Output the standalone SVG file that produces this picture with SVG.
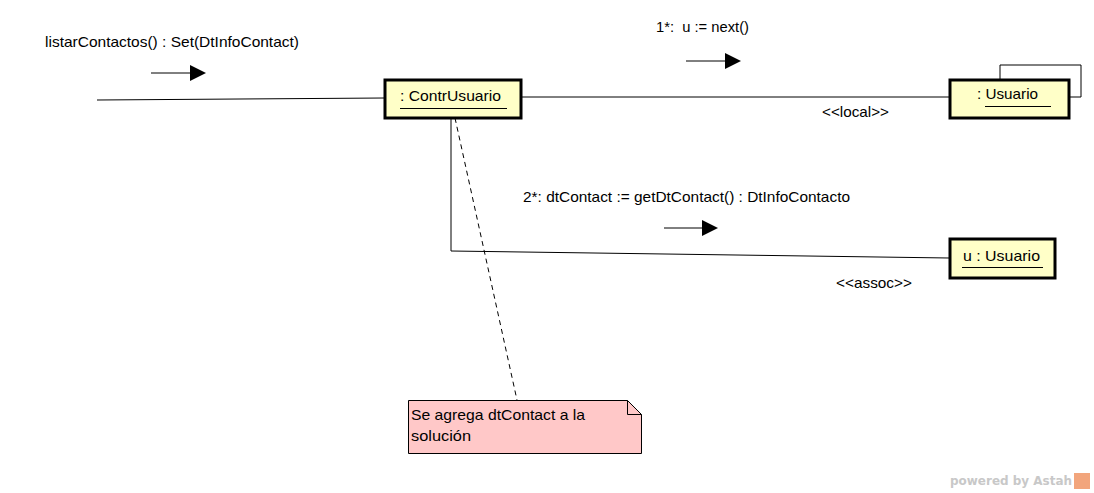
<svg xmlns="http://www.w3.org/2000/svg" width="1094" height="493" viewBox="0 0 1094 493">
<defs>
<style>
.t{font-family:"Liberation Sans",Arial,sans-serif;font-size:15px;fill:#000}
.obj{fill:#FFFFC8;stroke:#000;stroke-width:3}
.ln{stroke:#000;stroke-width:1;fill:none}
.ul{stroke:#000;stroke-width:1}
</style>
<marker id="ah" markerWidth="16" markerHeight="16" refX="0" refY="8" orient="auto" markerUnits="userSpaceOnUse">
<path d="M0,0 L16,8 L0,16 Z" fill="#000"/>
</marker>
</defs>
<rect width="1094" height="493" fill="#fff"/>
<g id="connectors">
<path class="ln" d="M97,100 L384,98"/>
<path class="ln" d="M521,97 L949,97"/>
<path class="ln" d="M1000,79 L1000,65 L1081,65 L1081,97 L1069,97"/>
<path class="ln" d="M451,118 L451,251 L949,258"/>
<path class="ln" d="M455,118 L517,400" stroke-dasharray="5,4"/>
<path class="ln" d="M151,73 L190,73" marker-end="url(#ah)"/>
<path class="ln" d="M686,61 L725,61" marker-end="url(#ah)"/>
<path class="ln" d="M664,228 L702,228" marker-end="url(#ah)"/>
<text class="t" x="45" y="47" textLength="254" lengthAdjust="spacingAndGlyphs">listarContactos() : Set(DtInfoContact)</text>
<text class="t" x="656" y="32" textLength="93" lengthAdjust="spacingAndGlyphs" xml:space="preserve">1*:  u := next()</text>
<text class="t" x="822" y="117" textLength="67" lengthAdjust="spacingAndGlyphs">&lt;&lt;local&gt;&gt;</text>
<text class="t" x="523" y="202" textLength="327" lengthAdjust="spacingAndGlyphs">2*: dtContact := getDtContact() : DtInfoContacto</text>
<text class="t" x="836" y="288" textLength="76" lengthAdjust="spacingAndGlyphs">&lt;&lt;assoc&gt;&gt;</text>
</g>
<g id="contrUsuario">
<rect class="obj" x="385" y="80" width="136" height="38"/>
<text class="t" x="400" y="101" textLength="101" lengthAdjust="spacingAndGlyphs">: ContrUsuario</text>
<line class="ul" x1="400" y1="108.5" x2="507" y2="108.5"/>
</g>
<g id="usuario">
<rect class="obj" x="950" y="80" width="119" height="38"/>
<text class="t" x="977" y="99" textLength="61" lengthAdjust="spacingAndGlyphs">: Usuario</text>
<line class="ul" x1="985" y1="106.5" x2="1051" y2="106.5"/>
</g>
<g id="uUsuario">
<rect class="obj" x="950" y="239" width="105" height="39"/>
<text class="t" x="963" y="261" textLength="77" lengthAdjust="spacingAndGlyphs">u : Usuario</text>
<line class="ul" x1="962" y1="267.5" x2="1043" y2="267.5"/>
</g>
<g id="note">
<path d="M408.5,400.5 L627.5,400.5 L641.5,414.5 L641.5,453.5 L408.5,453.5 Z" fill="#FFC8C8" stroke="#000" stroke-width="1"/>
<path d="M627.5,400.5 L627.5,414.5 L641.5,414.5" fill="none" stroke="#000" stroke-width="1"/>
<text class="t" x="411" y="420" textLength="174" lengthAdjust="spacingAndGlyphs">Se agrega dtContact a la</text>
<text class="t" x="411" y="441" textLength="60" lengthAdjust="spacingAndGlyphs">solución</text>
</g>
<g id="watermark">
<text x="950" y="485" font-family="'DejaVu Sans',sans-serif" font-weight="bold" font-size="13" fill="#C8C8C8" textLength="122" lengthAdjust="spacingAndGlyphs">powered by Astah</text>
<rect x="1074" y="473" width="16" height="16" fill="#F2A57C"/>
</g>
</svg>
